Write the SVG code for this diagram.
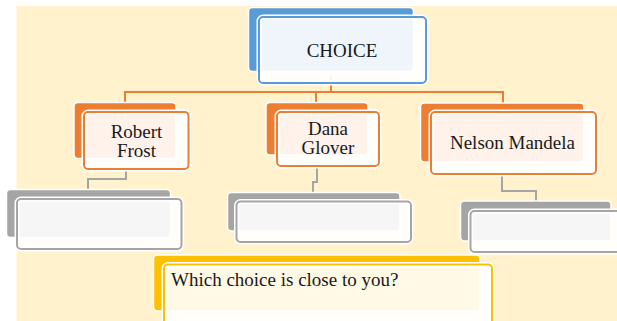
<svg xmlns="http://www.w3.org/2000/svg" width="617" height="321" viewBox="0 0 617 321">
<style>
.t{font-family:"Liberation Serif","Times New Roman",serif;font-size:19px;fill:#1a1a1a}
.back{stroke:#fff;stroke-width:1.5}
.halo{fill:none;stroke:#fff;stroke-width:5}
.front{fill:#fff;fill-opacity:0.9;stroke-width:2}
.oc{fill:none;stroke:#ED7D31;stroke-width:2}
.gc{fill:none;stroke:#A5A5A5;stroke-width:2}
</style>
<rect width="617" height="321" fill="#fff"/>
<rect x="16.5" y="6" width="601" height="315" fill="#FFF2CC"/>
<g id="connectors">
<path class="oc" d="M331 75V92M125 103V92H503V103M316 92V103"/>
<path class="gc" d="M126 169V179H88V190"/>
<path class="gc" d="M317 166V182H313V193"/>
<path class="gc" d="M502 174V191H536V201"/>
</g>
<g id="choice">
<rect class="back" x="248.5" y="7.5" width="165" height="64" rx="4" fill="#5B9BD5"/>
<rect class="halo" x="259" y="17" width="167" height="66" rx="4"/>
<rect class="front" x="259" y="17" width="167" height="66" rx="4" stroke="#5B9BD5"/>
<text class="t" x="342" y="57" text-anchor="middle">CHOICE</text>
</g>
<g id="robert">
<rect class="back" x="74" y="102.5" width="102" height="56" rx="4" fill="#ED7D31"/>
<rect class="halo" x="84" y="112" width="104.5" height="57" rx="4"/>
<rect class="front" x="84" y="112" width="104.5" height="57" rx="4" stroke="#ED7D31"/>
<text class="t" x="136.5" y="137.5" text-anchor="middle">Robert</text>
<text class="t" x="136.5" y="157" text-anchor="middle">Frost</text>
</g>
<g id="dana">
<rect class="back" x="266" y="102.5" width="102" height="52.5" rx="4" fill="#ED7D31"/>
<rect class="halo" x="277" y="112" width="102" height="54" rx="4"/>
<rect class="front" x="277" y="112" width="102" height="54" rx="4" stroke="#ED7D31"/>
<text class="t" x="328" y="135" text-anchor="middle">Dana</text>
<text class="t" x="328" y="154" text-anchor="middle">Glover</text>
</g>
<g id="nelson">
<rect class="back" x="420.5" y="103" width="163.5" height="59" rx="4" fill="#ED7D31"/>
<rect class="halo" x="431" y="112" width="165" height="62" rx="4"/>
<rect class="front" x="431" y="112" width="165" height="62" rx="4" stroke="#ED7D31"/>
<text class="t" x="512.5" y="149" text-anchor="middle">Nelson Mandela</text>
</g>
<g id="grey1">
<rect class="back" x="6.5" y="189.5" width="164" height="48" rx="4" fill="#A5A5A5"/>
<rect class="halo" x="17" y="199" width="164.5" height="50" rx="4"/>
<rect class="front" x="17" y="199" width="164.5" height="50" rx="4" stroke="#A5A5A5"/>
</g>
<g id="grey2">
<rect class="back" x="227.5" y="192.5" width="172.5" height="38.5" rx="4" fill="#A5A5A5"/>
<rect class="halo" x="236.5" y="201.5" width="174.5" height="40.5" rx="4"/>
<rect class="front" x="236.5" y="201.5" width="174.5" height="40.5" rx="4" stroke="#A5A5A5"/>
</g>
<g id="grey3">
<rect class="back" x="460.5" y="201" width="150.5" height="40" rx="4" fill="#A5A5A5"/>
<rect class="halo" x="470.5" y="211" width="155" height="41" rx="4"/>
<rect class="front" x="470.5" y="211" width="155" height="41" rx="4" stroke="#A5A5A5"/>
</g>
<g id="question">
<rect class="back" x="153.5" y="255" width="326.5" height="56" rx="4" fill="#FFC000"/>
<rect class="halo" x="164" y="264.5" width="328" height="66" rx="4"/>
<rect class="front" x="164" y="264.5" width="328" height="66" rx="4" stroke="#FFC000"/>
<text class="t" x="171" y="285.5">Which choice is close to you?</text>
</g>
</svg>
